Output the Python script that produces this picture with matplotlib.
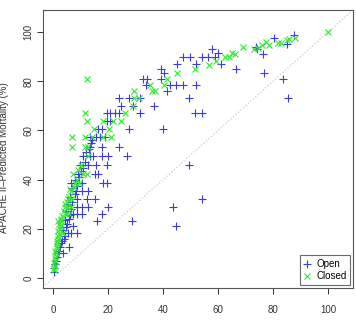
import numpy as np
import matplotlib
matplotlib.use('Agg')
import matplotlib.pyplot as plt

plt.rcParams['font.family'] = ['Liberation Sans', 'DejaVu Sans']

# Open ICU points (observed mortality %, APACHE II predicted %)
open_x = [47.3, 49.6, 44.9, 39.1, 40.3, 51.8, 32.7, 34.2, 33.7, 39.1, 42.4, 44.6, 47.1, 41.2, 51.8,
          49.4, 24.0, 27.6, 31.5, 24.8, 28.9, 36.7, 19.4, 20.8, 22.4, 24.0, 31.5, 19.4, 20.8, 16.3,
          17.6, 27.6, 40.0, 13.5, 15.5, 17.0, 19.0, 13.9, 13.5, 17.6, 24.0, 10.9, 13.3, 14.5, 17.6,
          20.0, 26.9, 9.9, 12.7, 15.7, 19.4, 49.4, 9.0, 15.1, 16.3, 6.6, 10.5, 18.1, 19.4, 8.2,
          10.3, 12.7, 8.5, 12.1, 15.1, 54.0, 8.5, 10.3, 12.7, 20.0, 43.6, 7.2, 8.5, 10.3, 17.9,
          16.0, 28.5, 7.2, 44.6, 5.4, 6.6, 8.5, 5.8, 3.6,
          54.0, 56.4, 58.8, 57.9, 60.0, 61.0, 66.5, 73.8, 74.2, 76.2, 76.8, 80.3, 85.2, 87.7, 83.5,
          85.3, 51.5, 54.0,
          0.2, 0.4, 0.6, 1.0, 1.2, 1.6, 2.0, 2.4, 2.8, 3.2, 3.8, 4.2, 3.5, 4.5, 5.0, 4.2, 5.6, 6.0,
          4.8, 6.4, 5.5, 7.0, 6.2, 7.8, 7.0, 8.5, 8.0, 9.5, 10.0, 11.0, 11.5, 12.0, 13.0, 14.0]
open_y = [89.7, 89.7, 86.9, 85.0, 83.2, 86.9, 80.9, 80.9, 78.5, 80.9, 78.5, 78.5, 78.5, 76.0, 78.5,
          73.0, 73.0, 73.0, 73.0, 70.0, 70.0, 70.0, 67.2, 67.2, 67.2, 67.2, 67.0, 64.0, 64.0, 60.4,
          60.4, 60.4, 60.4, 57.2, 57.2, 57.2, 57.2, 55.0, 53.1, 53.1, 53.1, 49.6, 49.6, 49.6, 49.6,
          49.6, 49.6, 45.9, 45.9, 45.9, 45.9, 45.9, 42.3, 42.3, 42.3, 38.7, 38.7, 38.7, 38.7, 35.4,
          35.4, 35.4, 32.0, 32.0, 32.0, 32.1, 28.7, 28.7, 28.7, 28.7, 28.7, 26.0, 26.0, 26.0, 26.0,
          23.3, 23.3, 20.9, 20.9, 18.4, 18.4, 18.4, 12.7, 10.0,
          89.7, 89.7, 89.7, 93.1, 91.3, 86.9, 85.0, 94.0, 93.0, 91.0, 83.2, 97.4, 95.0, 98.8, 80.9,
          73.3, 67.2, 67.2,
          2.5, 4.0, 5.5, 7.0, 8.5, 10.0, 11.0, 12.5, 14.0, 15.0, 16.0, 17.0, 19.5, 20.5, 22.0, 23.5,
          24.0, 25.5, 27.0, 28.0, 30.0, 31.0, 33.0, 34.0, 36.5, 37.5, 40.0, 41.0, 43.5, 44.5, 47.0,
          51.0, 52.5, 56.0]

# Closed ICU points
closed_x = [12.2, 45.1, 51.5, 35.2, 40.3, 41.5, 35.8, 37.0, 29.4, 29.4, 31.1, 28.9, 26.0, 11.5, 12.3,
            18.1, 21.8, 24.8, 14.9, 20.3, 7.0, 11.5, 14.0, 18.0, 21.0, 6.9, 11.7, 12.7, 12.8, 7.2,
            10.9, 12.1, 8.0, 9.5, 6.6, 5.2, 6.6, 5.2, 6.6, 4.6, 5.7, 1.7, 3.0, 3.0, 3.6,
            59.2, 56.8, 62.5, 64.0, 64.9, 66.1, 69.1, 73.0, 74.6, 75.8, 77.4, 78.6, 81.7, 82.9, 85.2,
            85.8, 88.0, 99.9,
            0.2, 0.3, 0.5, 0.4, 0.7, 0.6, 0.9, 1.1, 0.8, 1.3, 1.2, 1.5, 1.4, 1.8, 1.6, 2.1, 1.9,
            2.3, 2.6, 2.2, 2.9, 3.3, 3.8, 4.1, 4.4, 5.0, 5.8, 6.2, 7.5, 8.5, 9.0, 10.0]
closed_y = [80.9, 83.2, 85.0, 78.5, 78.5, 80.9, 76.0, 76.0, 76.0, 73.0, 73.0, 70.0, 67.2, 67.0, 64.0,
            64.0, 64.0, 64.0, 60.4, 60.4, 57.2, 57.2, 57.2, 57.2, 57.2, 53.1, 53.1, 53.1, 49.6, 42.3,
            42.3, 42.3, 38.7, 38.7, 35.4, 32.0, 32.0, 28.7, 28.7, 26.0, 26.0, 23.3, 23.3, 20.9, 18.4,
            88.2, 86.6, 89.7, 89.7, 91.6, 91.0, 94.0, 93.1, 93.4, 94.7, 95.8, 94.7, 95.4, 95.6, 96.7,
            97.0, 97.4, 99.9,
            3.0, 4.0, 5.0, 6.0, 7.0, 8.0, 9.0, 10.0, 11.0, 12.0, 13.0, 14.0, 15.0, 16.0, 17.0, 18.0,
            19.0, 20.0, 21.0, 22.0, 24.0, 25.0, 27.0, 29.0, 30.0, 31.0, 33.0, 36.0, 37.0, 40.0, 44.0,
            46.0]

fig = plt.figure(figsize=(3.56, 3.21), dpi=100)
ax = fig.add_axes([0.121, 0.103, 0.871, 0.867])

ax.plot([-10, 120], [-10, 120], linestyle=':', color='#cccccc', linewidth=0.9, zorder=1)
ax.plot(open_x, open_y, linestyle='none', marker='+', markersize=6, markeredgewidth=0.8,
        color='#3a3ae8', label='Open', zorder=2)
ax.plot(closed_x, closed_y, linestyle='none', marker='x', markersize=4, markeredgewidth=0.8,
        color='#33e633', label='Closed', zorder=3)

ax.set_xlim(-3.7, 109.1)
ax.set_ylim(-4.1, 109.1)
ax.set_xticks([0, 20, 40, 60, 80, 100])
ax.set_yticks([0, 20, 40, 60, 80, 100])
for lab in ax.get_yticklabels():
    lab.set_rotation(90)
    lab.set_va('center')
ax.tick_params(labelsize=7, length=4, width=0.7, color='#333333', labelcolor='#333333')
ax.tick_params(axis='x', pad=8)
ax.tick_params(axis='y', pad=3)
for s in ax.spines.values():
    s.set_color('#555555')
    s.set_linewidth(0.8)
ax.set_ylabel('APACHE II\u2013Predicted Mortality (%)', fontsize=7, color='#333333')
ax.yaxis.set_label_coords(-0.11, 0.467)

leg = ax.legend(loc='lower right', fontsize=7, frameon=True, fancybox=False, handlelength=0.8,
                handletextpad=0.5, borderpad=0.4, labelspacing=0.2, borderaxespad=0.3)
leg.get_frame().set_edgecolor('#444444')
leg.get_frame().set_linewidth(0.8)

fig.savefig('out.png', dpi=100)
